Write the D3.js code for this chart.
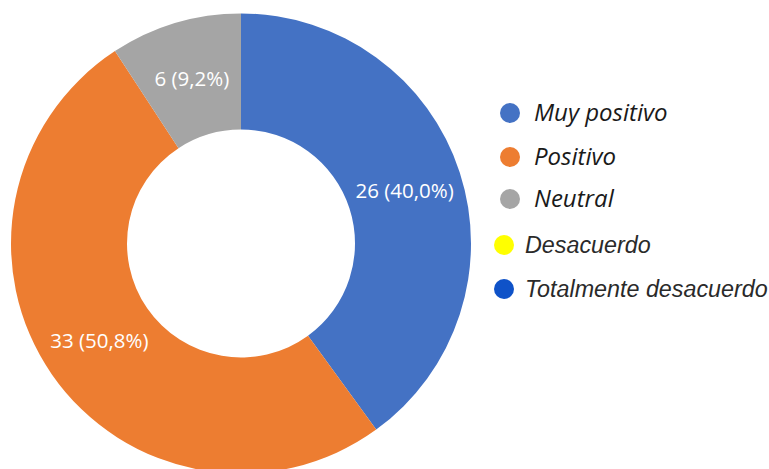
<!DOCTYPE html>
<html><head><meta charset="utf-8">
<script src="https://cdn.jsdelivr.net/npm/d3@7"></script>
<style>body{margin:0;background:#fff}svg{display:block}</style>
</head><body>
<svg id="c" width="769" height="469"></svg>
<script>
const categories = ["Muy positivo", "Positivo", "Neutral"];
const values = [26, 33, 6];
const labels = ["26 (40,0%)", "33 (50,8%)", "6 (9,2%)"];
const colors = ["#4472C4", "#ED7D31", "#A5A5A5"];
const legendNames = ["Muy positivo", "Positivo", "Neutral", "Desacuerdo", "Totalmente desacuerdo"];
const legendColors = ["#4472C4", "#ED7D31", "#A5A5A5", "#FFFF00", "#0F52C8"];

const svg = d3.select("#c");
const cx = 241, cy = 243.5, R = 230, r = 114;
const g = svg.append("g").attr("transform", `translate(${cx},${cy})`);
const pie = d3.pie().sort(null).value(d => d)(values);
const arc = d3.arc().innerRadius(r).outerRadius(R);
const labelArc = d3.arc().innerRadius(172).outerRadius(172);
g.selectAll("path").data(pie).join("path")
  .attr("d", arc).attr("fill", (d, i) => colors[i]);
g.selectAll("text").data(pie).join("text")
  .attr("transform", d => `translate(${labelArc.centroid(d)})`)
  .attr("text-anchor", "middle").attr("dy", "0.35em")
  .attr("fill", "#fff").attr("font-family", "Open Sans, sans-serif").attr("font-size", 20.5)
  .text((d, i) => labels[i]);

const ly = [113, 157, 199, 245, 289];
const leg = svg.append("g");
legendNames.forEach((n, i) => {
  const calibri = i < 3;
  const x0 = calibri ? 510 : 504;
  leg.append("circle").attr("cx", x0).attr("cy", ly[i]).attr("r", 10).attr("fill", legendColors[i]);
  leg.append("text").attr("x", calibri ? 534 : 525).attr("y", ly[i]).attr("dy", "0.35em")
    .attr("font-family", calibri ? "Open Sans, sans-serif" : "Liberation Sans, Arial, sans-serif")
    .attr("font-style", "italic").attr("font-size", calibri ? 24 : 23.3)
    .attr("fill", calibri ? "#1a1a1a" : "#2a2a2a").text(n);
});
</script>
</body></html>
